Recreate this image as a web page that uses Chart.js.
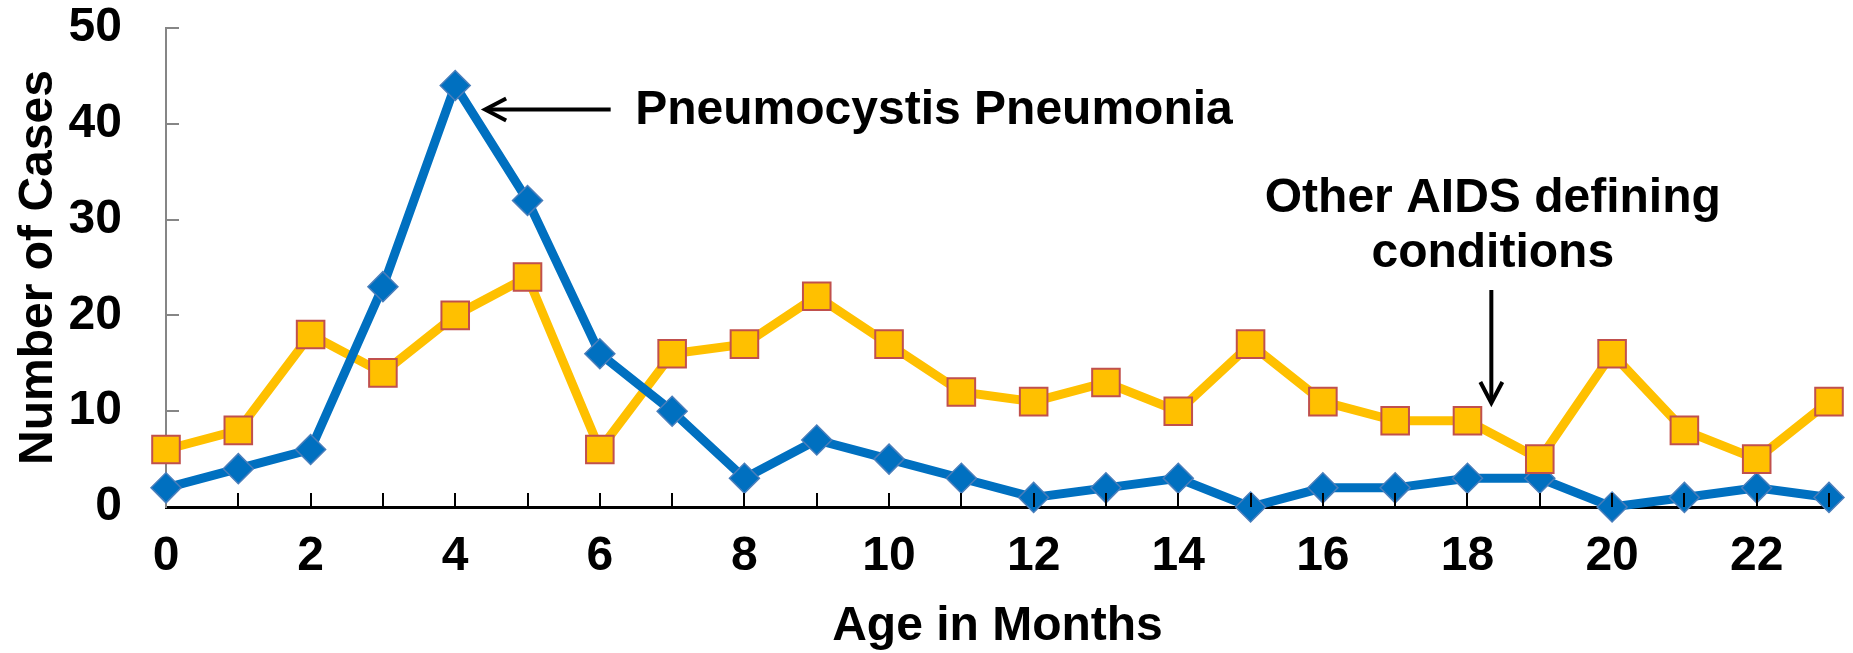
<!DOCTYPE html>
<html>
<head>
<meta charset="utf-8">
<script src="https://cdn.jsdelivr.net/npm/chart.js@4"></script>
<style>
  html, body { margin: 0; padding: 0; background: #fff; }
  #wrap { width: 1853px; height: 653px; }
</style>
</head>
<body>
<div id="wrap"><canvas id="chart"></canvas></div>
<script>
// Age in months (x categories)
const ages = ['0','1','2','3','4','5','6','7','8','9','10','11','12','13','14','15','16','17','18','19','20','21','22','23'];
// Pneumocystis pneumonia cases
const pcpCases = [2, 4, 6, 23, 44, 32, 16, 10, 3, 7, 5, 3, 1, 2, 3, 0, 2, 2, 3, 3, 0, 1, 2, 1];
// Other AIDS defining conditions
const otherCases = [6, 8, 18, 14, 20, 24, 6, 16, 17, 22, 17, 12, 11, 13, 10, 17, 11, 9, 9, 5, 16, 8, 5, 11];
const yTicks = [0, 10, 20, 30, 40, 50];

// annotation labels, anchored in data units
const pcpLabel = 'Pneumocystis Pneumonia';
const otherLabel = ['Other AIDS defining', 'conditions'];

const FONT = '"Liberation Sans", Arial, sans-serif';
const BLUE = '#0070C0';
const GOLD = '#FFC000';

// draws the inward tick marks and the two arrow callouts
const overlay = {
    id: 'overlay',
    afterDatasetsDraw(chart) {
        const { ctx, scales: { x, y } } = chart;
        ctx.save();
        // y ticks (gray, pointing right)
        ctx.strokeStyle = '#868686';
        ctx.lineWidth = 2;
        yTicks.forEach(v => {
            if (v === 0) return;
            const py = Math.round(y.getPixelForValue(v));
            ctx.beginPath();
            ctx.moveTo(x.left, py);
            ctx.lineTo(x.left + 13, py);
            ctx.stroke();
        });
        // x ticks (black, pointing up)
        ctx.strokeStyle = '#000';
        ages.forEach((a, i) => {
            if (i === 0) return;
            const px = Math.round(x.getPixelForValue(i));
            ctx.beginPath();
            ctx.moveTo(px, y.bottom);
            ctx.lineTo(px, y.bottom - 14);
            ctx.stroke();
        });

        ctx.fillStyle = '#000';
        ctx.strokeStyle = '#000';
        ctx.lineWidth = 4;
        ctx.lineCap = 'butt';
        ctx.font = 'bold 48px ' + FONT;

        // arrow to PCP peak
        const ax0 = x.getPixelForValue(4.4), ax1 = x.getPixelForValue(6.15);
        const ay = y.getPixelForValue(41.5);
        ctx.beginPath();
        ctx.moveTo(ax1, ay);
        ctx.lineTo(ax0 + 2, ay);
        ctx.stroke();
        ctx.beginPath();
        ctx.moveTo(ax0 + 22, ay - 11);
        ctx.lineTo(ax0 + 1, ay);
        ctx.lineTo(ax0 + 22, ay + 11);
        ctx.stroke();
        ctx.textAlign = 'left';
        ctx.textBaseline = 'middle';
        ctx.fillText(pcpLabel, x.getPixelForValue(6.49), ay + 1);

        // arrow down to the other conditions
        const bx = x.getPixelForValue(18.33);
        const by0 = y.getPixelForValue(22.65), by1 = y.getPixelForValue(10.75);
        ctx.beginPath();
        ctx.moveTo(bx, by0);
        ctx.lineTo(bx, by1 - 2);
        ctx.stroke();
        ctx.beginPath();
        ctx.moveTo(bx - 11, by1 - 22);
        ctx.lineTo(bx, by1 - 1);
        ctx.lineTo(bx + 11, by1 - 22);
        ctx.stroke();
        ctx.textAlign = 'center';
        ctx.textBaseline = 'alphabetic';
        const tx = x.getPixelForValue(18.35);
        ctx.fillText(otherLabel[0], tx, y.getPixelForValue(30.8));
        ctx.fillText(otherLabel[1], tx, y.getPixelForValue(25.05));
        ctx.restore();
    }
};

new Chart(document.getElementById('chart'), {
    type: 'line',
    data: {
        labels: ages,
        datasets: [
            {
                // gold markers on top
                data: otherCases,
                showLine: false,
                pointStyle: 'rect',
                pointRadius: 19.5,
                pointBackgroundColor: GOLD,
                pointBorderColor: '#C0504D',
                pointBorderWidth: 2,
                clip: false
            },
            {
                data: pcpCases,
                borderColor: BLUE,
                borderWidth: 9,
                pointStyle: 'rectRot',
                pointRadius: 15,
                pointBackgroundColor: BLUE,
                pointBorderColor: '#4A7EBB',
                pointBorderWidth: 1.5,
                tension: 0,
                clip: false
            },
            {
                data: otherCases,
                borderColor: GOLD,
                borderWidth: 9,
                pointRadius: 0,
                tension: 0,
                clip: false
            }
        ]
    },
    options: {
        responsive: true,
        maintainAspectRatio: false,
        animation: false,
        events: [],
        layout: { padding: { left: 0, right: 24, top: 28, bottom: 0 } },
        scales: {
            x: {
                type: 'category',
                offset: false,
                grid: { display: false, drawTicks: false },
                border: { color: '#000', width: 3 },
                ticks: {
                    autoSkip: false,
                    maxRotation: 0,
                    padding: 26,
                    color: '#000',
                    font: { family: FONT, size: 48, weight: 'bold', lineHeight: 1 },
                    callback: (v, i) => (i % 2 === 0 ? ages[i] : '')
                },
                title: {
                    display: true,
                    text: 'Age in Months',
                    color: '#000',
                    font: { family: FONT, size: 48, weight: 'bold', lineHeight: 1.1 },
                    padding: 0
                },
                afterFit: s => { s.height = 146; s.paddingLeft = 0; s.paddingRight = 0; }
            },
            y: {
                min: 0,
                max: 50,
                grid: { display: false, drawTicks: false },
                border: { color: '#868686', width: 2 },
                ticks: {
                    stepSize: 10,
                    padding: 44,
                    color: '#000',
                    font: { family: FONT, size: 48, weight: 'bold', lineHeight: 1 }
                },
                title: {
                    display: true,
                    text: 'Number of Cases',
                    color: '#000',
                    font: { family: FONT, size: 48, weight: 'bold', lineHeight: 1.2 },
                    padding: { top: 10, bottom: 0 }
                },
                afterFit: s => { s.width = 166; s.paddingTop = 0; s.paddingBottom = 0; }
            }
        },
        plugins: {
            legend: { display: false },
            tooltip: { enabled: false }
        }
    },
    plugins: [overlay]
});
</script>
</body>
</html>
